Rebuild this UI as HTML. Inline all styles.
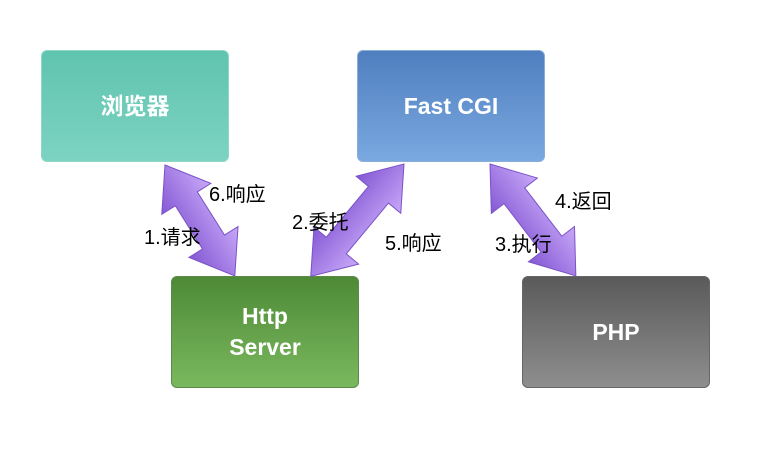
<!DOCTYPE html>
<html><head><meta charset="utf-8"><style>
body{margin:0;width:766px;height:454px;background:#fff;overflow:hidden;position:relative;font-family:"Liberation Sans","Noto Sans CJK SC",sans-serif}
.b{position:absolute;width:188px;height:112px;border-radius:6px;color:#fff;font-weight:bold;font-size:23px;display:flex;align-items:center;justify-content:center;text-align:center;line-height:31px;box-sizing:border-box}
.l{position:absolute;font-size:20px;color:#000;font-family:"Liberation Sans","Noto Sans CJK SC",sans-serif}
</style></head><body>
<div class="b" style="left:41px;top:50px;background:linear-gradient(#5fc4ae,#7dd3c2);border:1px solid #8fd8c8">浏览器</div>
<div class="b" style="left:357px;top:50px;background:linear-gradient(#4f7fbf,#7aa8e0);border:1px solid #8aaed8">Fast CGI</div>
<div class="b" style="left:171px;top:276px;background:linear-gradient(#4e8a36,#7ab85e);border:1px solid #5c8a48">Http<br>Server</div>
<div class="b" style="left:522px;top:276px;background:linear-gradient(#5a5a5a,#8e8e8e);border:1px solid #666">PHP</div>
<svg width="766" height="454" style="position:absolute;left:0;top:0">
<defs><linearGradient id="g" x1="0" y1="0" x2="0" y2="1"><stop offset="0" stop-color="#c8a8f8"/><stop offset="1" stop-color="#8458d4"/></linearGradient></defs>
<g transform="translate(165,165) rotate(57.8)"><polygon points="0,0 40,-29 40,-13 91,-13 91,-29 131,0 91,29 91,13 40,13 40,29" fill="url(#g)" stroke="#7a52c8"/></g>
<g transform="translate(404,164) rotate(129.7)"><polygon points="0,0 40,-29 40,-13 106,-13 106,-29 146,0 106,29 106,13 40,13 40,29" fill="url(#g)" stroke="#7a52c8"/></g>
<g transform="translate(490,164) rotate(52.5)"><polygon points="0,0 40,-29 40,-13 101,-13 101,-29 141,0 101,29 101,13 40,13 40,29" fill="url(#g)" stroke="#7a52c8"/></g>
</svg>
<div class="l" style="left:209px;top:178px">6.响应</div>
<div class="l" style="left:144px;top:221px">1.请求</div>
<div class="l" style="left:292px;top:206px">2.委托</div>
<div class="l" style="left:385px;top:227px">5.响应</div>
<div class="l" style="left:555px;top:185px">4.返回</div>
<div class="l" style="left:495px;top:228px">3.执行</div>
</body></html>
